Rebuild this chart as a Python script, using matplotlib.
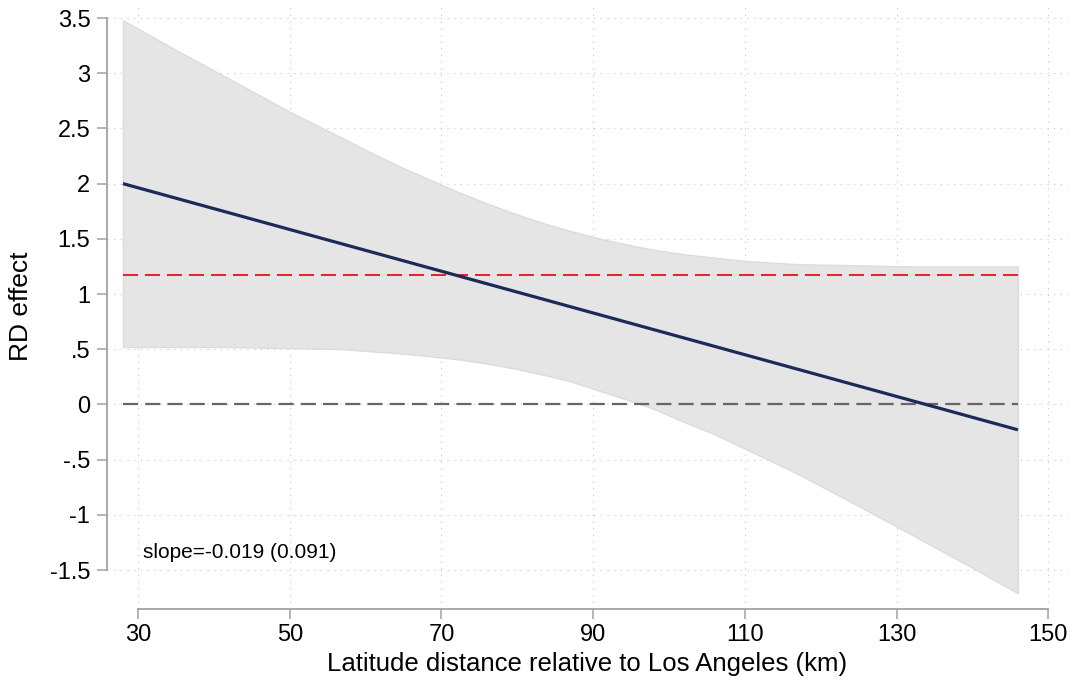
import matplotlib.pyplot as plt
import numpy as np

plt.rcParams['font.family'] = ['Liberation Sans', 'DejaVu Sans']

# Linearer Verlauf des RD-Effekts mit Konfidenzband
dist_km = [28, 35, 42, 50, 57, 61, 65, 68, 72, 76, 80, 84, 87, 91, 95, 98, 102, 106,
           110, 117, 125, 132, 140, 146]
ci_upper = [3.48, 3.21, 2.95, 2.65, 2.41, 2.27, 2.14, 2.05, 1.93, 1.82, 1.72, 1.63,
            1.57, 1.50, 1.44, 1.40, 1.36, 1.33, 1.30, 1.27, 1.26, 1.25, 1.25, 1.25]
ci_lower = [0.52, 0.52, 0.52, 0.51, 0.50, 0.48, 0.46, 0.44, 0.41, 0.37, 0.32, 0.26,
            0.21, 0.12, 0.03, -0.04, -0.16, -0.27, -0.40, -0.63, -0.92, -1.18, -1.48,
            -1.71]
fit_x = [28, 146]
fit_y = [2.00, -0.23]
ref_effect = 1.17   # rote Referenzlinie
slope_text = 'slope=-0.019 (0.091)'

x_ticks = [30, 50, 70, 90, 110, 130, 150]
y_ticks = [-1.5, -1, -0.5, 0, 0.5, 1, 1.5, 2, 2.5, 3, 3.5]
y_ticklabels = ['-1.5', '-1', '-.5', '0', '.5', '1', '1.5', '2', '2.5', '3', '3.5']

fig = plt.figure(figsize=(10.73, 6.85), dpi=100)
ax = fig.add_axes([107 / 1073, 1 - 609 / 685, (1068 - 107) / 1073, (609 - 3) / 685])

# Gitter (gepunktet) unter allem anderen
grid_kw = dict(color='#c4c4c4', lw=0.8, linestyle=(0, (1, 5)), zorder=0)
for yt in y_ticks:
    ax.axhline(yt, **grid_kw)
for xt in x_ticks:
    ax.axvline(xt, **grid_kw)

ax.fill_between(dist_km, ci_lower, ci_upper, facecolor='#e5e5e5',
                edgecolor='#dcdcdc', lw=1.0, zorder=1)
ax.plot([dist_km[0], dist_km[-1]], [0, 0], color='#666666', lw=1.6,
        linestyle=(0, (6.8, 3.2)), zorder=2)
ax.plot([dist_km[0], dist_km[-1]], [ref_effect, ref_effect], color='#e2000c', lw=1.2,
        linestyle=(0, (9.0, 4.2)), zorder=2)
ax.plot(fit_x, fit_y, color='#1c2a58', lw=2.3, solid_capstyle='butt', zorder=3)

ax.text(30.6, -1.34, slope_text, fontsize=15, va='center', ha='left')

ax.set_xlim(25.9, 152.6)
ax.set_ylim(-1.853, 3.636)
ax.set_xticks(x_ticks)
ax.set_yticks(y_ticks)
ax.set_yticklabels(y_ticklabels)

for side in ['top', 'right']:
    ax.spines[side].set_visible(False)
ax.spines['left'].set_bounds(-1.5, 3.5)
ax.spines['bottom'].set_bounds(30, 150)
for side in ['left', 'bottom']:
    ax.spines[side].set_color('#a8a8a8')
    ax.spines[side].set_linewidth(1.4)
ax.tick_params(axis='both', direction='out', length=7, width=1.2, color='#a8a8a8',
               labelsize=17, pad=4)
ax.tick_params(axis='y', pad=5)

ax.set_xlabel('Latitude distance relative to Los Angeles (km)', fontsize=18.5, labelpad=4)
ax.set_ylabel('RD effect', fontsize=19, labelpad=12)

fig.savefig('out.png', dpi=100)
